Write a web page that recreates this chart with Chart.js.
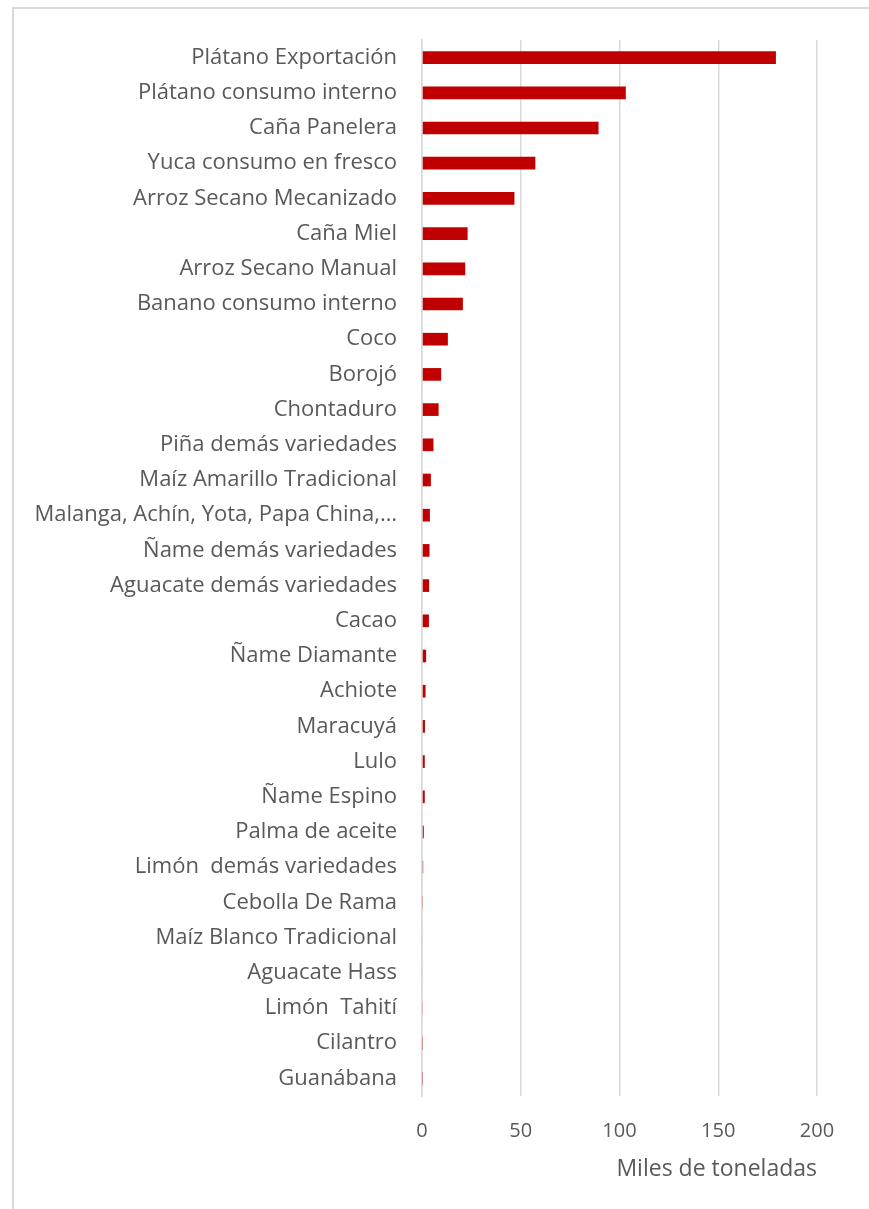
<!DOCTYPE html>
<html lang="es">
<head>
<meta charset="utf-8">
<title>Producción agrícola</title>
<script src="https://cdn.jsdelivr.net/npm/chart.js@4.4.0/dist/chart.umd.min.js"></script>
<style>
    html, body {
        margin: 0;
        padding: 0;
        background: #ffffff;
    }
    #wrap {
        position: relative;
        width: 869px;
        height: 1209px;
        overflow: hidden;
    }
    /* light frame around the chart */
    #frame {
        position: absolute;
        left: 12px;
        top: 7px;
        width: 869px;
        height: 1220px;
        border-top: 2px solid #d9d9d9;
        border-left: 2px solid #d9d9d9;
    }
    #chart {
        position: absolute;
        left: 0;
        top: 0;
    }
</style>
</head>
<body>
<div id="wrap">
    <div id="frame"></div>
    <canvas id="chart" width="869" height="1209"></canvas>
</div>
<script>
// Crop names, largest production first
const cultivos = [
    'Plátano Exportación',
    'Plátano consumo interno',
    'Caña Panelera',
    'Yuca consumo en fresco',
    'Arroz Secano Mecanizado',
    'Caña Miel',
    'Arroz Secano Manual',
    'Banano consumo interno',
    'Coco',
    'Borojó',
    'Chontaduro',
    'Piña demás variedades',
    'Maíz Amarillo Tradicional',
    'Malanga, Achín, Yota, Papa China,…',
    'Ñame demás variedades',
    'Aguacate demás variedades',
    'Cacao',
    'Ñame Diamante',
    'Achiote',
    'Maracuyá',
    'Lulo',
    'Ñame Espino',
    'Palma de aceite',
    'Limón  demás variedades',
    'Cebolla De Rama',
    'Maíz Blanco Tradicional',
    'Aguacate Hass',
    'Limón  Tahití',
    'Cilantro',
    'Guanábana'
];

// Production in thousands of tonnes
const produccion = [
    179.2, 103.2, 89.4, 57.4, 46.8, 23.1, 21.9, 20.7, 13.1, 9.7,
    8.4, 5.8, 4.5, 4.0, 3.8, 3.6, 3.5, 2.1, 1.8, 1.5,
    1.4, 1.4, 0.9, 0.6, 0.5, 0.4, 0.4, 0.3, 0.2, 0.2
];

// Value axis
const ejeMin = 0;
const ejeMax = 200;
const ejePaso = 50;
const ejeTitulo = 'Miles de toneladas';

const textColor = '#595959';
const gridColor = '#d9d9d9';
const barColor = '#c00000';

const ctx = document.getElementById('chart');

new Chart(ctx, {
    type: 'bar',
    data: {
        labels: cultivos,
        datasets: [{
            label: ejeTitulo,
            data: produccion,
            backgroundColor: barColor,
            borderWidth: 0,
            categoryPercentage: 1,
            barPercentage: 0.36
        }]
    },
    options: {
        indexAxis: 'y',
        responsive: false,
        animation: false,
        devicePixelRatio: 1,
        layout: {
            padding: { top: 40, right: 52, bottom: 26, left: 0 }
        },
        plugins: {
            legend: { display: false },
            tooltip: { enabled: false }
        },
        scales: {
            x: {
                min: ejeMin,
                max: ejeMax,
                border: { display: false },
                grid: {
                    color: gridColor,
                    lineWidth: 1.5,
                    drawTicks: false
                },
                ticks: {
                    stepSize: ejePaso,
                    color: textColor,
                    padding: 23,
                    font: { family: '"Open Sans", sans-serif', size: 20 }
                },
                title: {
                    display: true,
                    text: ejeTitulo,
                    align: 'end',
                    color: textColor,
                    padding: { top: 6, bottom: 0 },
                    font: { family: '"Open Sans", sans-serif', size: 23 }
                },
                afterFit: (scale) => { scale.height = 87; }
            },
            y: {
                border: { color: gridColor, width: 1.5 },
                grid: { display: false },
                ticks: {
                    color: textColor,
                    padding: 17,
                    autoSkip: false,
                    font: { family: '"Open Sans", sans-serif', size: 22 }
                },
                afterFit: (scale) => { scale.width = 422; }
            }
        }
    }
});
</script>
</body>
</html>
